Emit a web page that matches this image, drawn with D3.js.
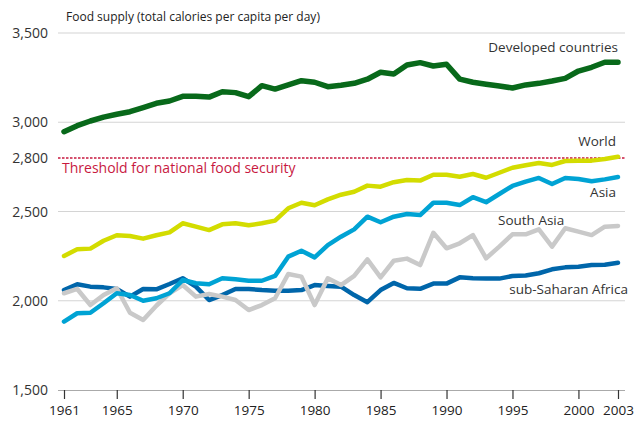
<!DOCTYPE html>
<html>
<head>
<meta charset="utf-8">
<script src="https://cdn.jsdelivr.net/npm/d3@7"></script>
<style>
  body { margin: 0; background: #fff; }
  svg { display: block; font-family: "Open Sans", sans-serif; }
</style>
</head>
<body>
<script>
(function all (){
  //years on the x axis
  var years = d3.range(1961, 2004);
  var xTicks = [1961, 1965, 1970, 1975, 1980, 1985, 1990, 1995, 2000, 2003];
  var yTicks = [1500, 2000, 2500, 2800, 3000, 3500];
  var gridValues = [2000, 2500, 3000, 3500];
  var threshold = 2800;

  //series values (kcal per capita per day)
  var developed = [2947, 2981, 3007, 3029, 3045, 3059, 3082, 3106, 3119, 3145,
    3145, 3141, 3171, 3166, 3143, 3205, 3186, 3209, 3233, 3224,
    3199, 3207, 3218, 3241, 3280, 3270, 3321, 3334, 3315, 3325,
    3242, 3224, 3213, 3203, 3192, 3209, 3218, 3231, 3246, 3287,
    3308, 3336, 3336];
  var world = [2251, 2288, 2292, 2336, 2367, 2363, 2348, 2367, 2383, 2434,
    2415, 2396, 2428, 2434, 2423, 2434, 2449, 2518, 2549, 2535,
    2568, 2594, 2611, 2645, 2639, 2664, 2676, 2673, 2706, 2706,
    2695, 2710, 2689, 2717, 2745, 2759, 2772, 2761, 2783, 2785,
    2785, 2794, 2807];
  var asia = [1883, 1930, 1933, 1986, 2042, 2032, 2000, 2014, 2042, 2116,
    2098, 2092, 2126, 2120, 2112, 2112, 2139, 2247, 2280, 2243,
    2312, 2359, 2400, 2471, 2440, 2471, 2486, 2480, 2549, 2549,
    2536, 2580, 2552, 2598, 2643, 2667, 2688, 2654, 2688, 2682,
    2669, 2680, 2693];
  var southAsia = [2042, 2066, 1976, 2032, 2070, 1933, 1892, 1972, 2042, 2088,
    2023, 2038, 2023, 2004, 1948, 1976, 2014, 2150, 2135, 1976,
    2126, 2088, 2139, 2232, 2131, 2224, 2236, 2200, 2381, 2294,
    2322, 2368, 2238, 2303, 2372, 2372, 2400, 2303, 2406, 2387,
    2368, 2415, 2419];
  var subSaharan = [2060, 2092, 2079, 2075, 2066, 2023, 2066, 2064, 2094, 2126,
    2079, 2004, 2032, 2066, 2066, 2060, 2056, 2056, 2060, 2088,
    2083, 2079, 2032, 1992, 2060, 2100, 2070, 2067, 2096, 2096,
    2131, 2126, 2124, 2124, 2139, 2141, 2154, 2176, 2187, 2191,
    2200, 2202, 2213];

  //drawing order, back to front
  var series = [
    {name: "sub-Saharan Africa", values: subSaharan, color: "#0066aa", width: 4.5},
    {name: "South Asia", values: southAsia, color: "#c9c9c9", width: 4.5},
    {name: "Asia", values: asia, color: "#00a3d4", width: 4.5},
    {name: "World", values: world, color: "#d3dc00", width: 4.5},
    {name: "Developed countries", values: developed, color: "#08691a", width: 5.5}
  ];

  var width = 639, height = 421;
  var x = d3.scaleLinear().domain([1961, 2003]).range([64, 618]);
  var y = d3.scaleLinear().domain([1500, 3500]).range([390, 33]);

  var svg = d3.select("body").append("svg")
    .attr("width", width)
    .attr("height", height);

  //gridlines
  svg.append("g").selectAll("line")
    .data(gridValues)
    .enter().append("line")
    .attr("x1", 58).attr("x2", 625)
    .attr("y1", function(d){ return y(d); })
    .attr("y2", function(d){ return y(d); })
    .attr("stroke", "#d4d4d4")
    .attr("stroke-width", 1.2);

  //y tick labels
  svg.append("g").selectAll("text")
    .data(yTicks)
    .enter().append("text")
    .attr("x", 48)
    .attr("y", function(d){ return y(d) + 5; })
    .attr("text-anchor", "end")
    .attr("font-size", 14)
    .attr("fill", "#333")
    .text(function(d){ return d3.format(",")(d); });

  //title
  svg.append("text")
    .attr("x", 66).attr("y", 21)
    .attr("font-size", 12)
    .attr("fill", "#222")
    .text("Food supply (total calories per capita per day)");

  //x axis
  var xAxis = d3.axisBottom(x)
    .tickValues(xTicks)
    .tickFormat(d3.format("d"))
    .tickSize(9)
    .tickSizeOuter(0)
    .tickPadding(6);
  var gx = svg.append("g")
    .attr("transform", "translate(0," + y(1500) + ")")
    .call(xAxis);
  gx.select(".domain").attr("d", "M58,0.5H625").attr("stroke", "#aaa").attr("stroke-width", 1.2);
  gx.selectAll(".tick line").attr("stroke", "#333").attr("stroke-width", 1.2);
  gx.selectAll(".tick text")
    .attr("font-family", "'Open Sans', sans-serif")
    .attr("font-size", 13.5)
    .attr("fill", "#222");

  //threshold line
  svg.append("line")
    .attr("x1", 58).attr("x2", 625)
    .attr("y1", y(threshold)).attr("y2", y(threshold))
    .attr("stroke", "#c8193f")
    .attr("stroke-width", 1.6)
    .attr("stroke-dasharray", "2.5,1.5");
  svg.append("text")
    .attr("x", 62).attr("y", y(threshold) + 15)
    .attr("font-size", 14)
    .attr("fill", "#c8193f")
    .text("Threshold for national food security");

  //series lines
  var line = d3.line()
    .x(function(d, i){ return x(years[i]); })
    .y(function(d){ return y(d); });

  svg.append("g").selectAll("path")
    .data(series)
    .enter().append("path")
    .attr("d", function(d){ return line(d.values); })
    .attr("fill", "none")
    .attr("stroke", function(d){ return d.color; })
    .attr("stroke-width", function(d){ return d.width; })
    .attr("stroke-linejoin", "round")
    .attr("stroke-linecap", "round");

  //series labels
  var labels = [
    {text: "Developed countries", x: 618, y: 52, anchor: "end"},
    {text: "World", x: 616, y: 146, anchor: "end"},
    {text: "Asia", x: 616, y: 197, anchor: "end"},
    {text: "South Asia", x: 498, y: 225, anchor: "start"},
    {text: "sub-Saharan Africa", x: 628, y: 294, anchor: "end"}
  ];
  svg.append("g").selectAll("text")
    .data(labels)
    .enter().append("text")
    .attr("x", function(d){ return d.x; })
    .attr("y", function(d){ return d.y; })
    .attr("text-anchor", function(d){ return d.anchor; })
    .attr("font-size", 13.5)
    .attr("fill", "#333")
    .text(function(d){ return d.text; });
})();
</script>
</body>
</html>
